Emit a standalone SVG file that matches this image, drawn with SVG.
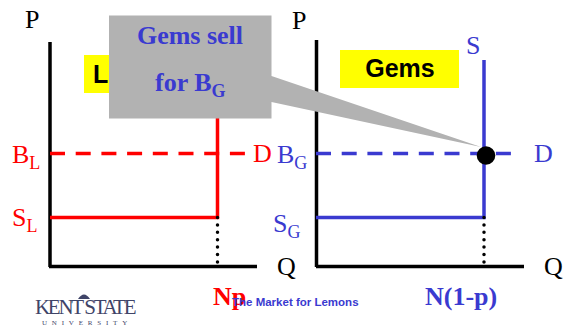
<svg xmlns="http://www.w3.org/2000/svg" width="564" height="326" viewBox="0 0 564 326">
<style>
.ax{stroke:#000;stroke-width:3.5;fill:none}
.r{stroke:#f00;stroke-width:3.5;fill:none}
.b{stroke:#3a3ad0;stroke-width:3.5;fill:none}
.rd{stroke-dasharray:15 10.700}
.dot{stroke:#000;stroke-width:3.5;fill:none;stroke-linecap:round;stroke-dasharray:0 7.400}
text{font-family:"Liberation Serif","Times New Roman",serif;font-size:26px}
.k{fill:#000}.tr{fill:#f00}.tb{fill:#3a3ad0}
.sub{font-size:18px}
.bold{font-weight:bold}
.sans{font-family:"Liberation Sans",Arial,sans-serif;font-weight:bold}
</style>
<rect width="564" height="326" fill="#fff"/>
<g id="connectors">
<path class="ax" d="M50 42V267M49 266.500H257"/>
<path class="ax" d="M316.500 40V267M316 266.500H524"/>
<path class="r" d="M50 217.500H217.500V100"/>
<path class="r rd" d="M50 153.500H247"/>
<path class="b" d="M316 217.500H484V60"/>
<path class="b rd" d="M316 153.500H512"/>
<path class="dot" d="M217.500 217.500V264"/>
<path class="dot" d="M484 217.500V264"/>
</g>
<g id="lemons-label"><rect x="84" y="55" width="40" height="38" fill="#ff0"/><text class="sans k" x="93" y="83" style="font-size:25px">L</text></g>
<g id="gems-label"><rect x="340" y="50" width="119" height="38" fill="#ff0"/><text class="sans k" x="400" y="77" text-anchor="middle" style="font-size:25px">Gems</text></g>
<g id="equilibrium"><circle cx="486" cy="155.500" r="9.300" fill="#000"/></g>
<g id="callout">
<path d="M109 15.500H271.500V76L481 147 271.500 102V118.500H109Z" fill="#b2b2b2"/>
<text class="bold tb" x="190" y="44" text-anchor="middle">Gems sell</text>
<text class="bold tb" x="155" y="91">for B<tspan class="sub" dy="6">G</tspan></text>
</g>
<g id="labels">
<text class="k" x="25" y="28">P</text>
<text class="k" x="292" y="29">P</text>
<text class="tb" x="466" y="54">S</text>
<text class="tr" x="12" y="163">B<tspan class="sub" dy="6">L</tspan></text>
<text class="tr" x="12" y="226">S<tspan class="sub" dy="6">L</tspan></text>
<text class="tr" x="253" y="162">D</text>
<text class="tb" x="277" y="163">B<tspan class="sub" dy="6">G</tspan></text>
<text class="tb" x="273" y="232">S<tspan class="sub" dy="6">G</tspan></text>
<text class="tb" x="534" y="162">D</text>
<text class="k" x="277" y="275">Q</text>
<text class="k" x="544" y="275">Q</text>
<text class="tr bold" x="213" y="305">Np</text>
<text class="tb bold" x="425" y="305">N(1-p)</text>
<text class="sans tb" x="232" y="306" style="font-size:11.500px">The Market for Lemons</text>
</g>
<g id="logo">
<text x="35" y="314" style="font-size:21px;letter-spacing:-2.300px" fill="#3f4468">KENT STATE</text>
<text x="42" y="325" style="font-size:7px;letter-spacing:4.800px" fill="#3f4468">UNIVERSITY</text>
<path d="M78 299q6-9 12 0Z" fill="#3f4468"/>
</g>
</svg>
